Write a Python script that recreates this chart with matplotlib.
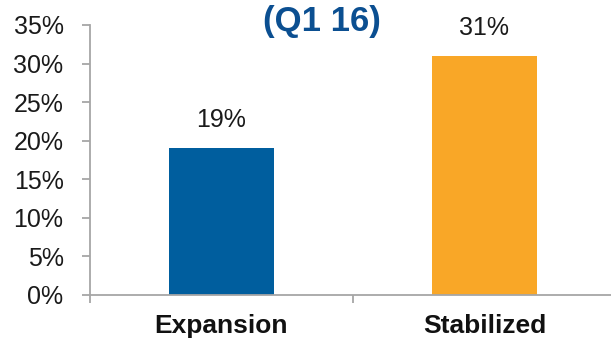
import matplotlib.pyplot as plt
import matplotlib.ticker as mticker

categories = ["Expansion", "Stabilized"]
values = [19, 31]
colors = ["#005E9E", "#F9A727"]
title = "(Q1 16)"

plt.rcParams['font.family'] = ['Liberation Sans', 'DejaVu Sans']

fig = plt.figure(figsize=(6.11, 3.39), dpi=100)
ax = fig.add_axes([90 / 611, 44 / 339, 526 / 611, 270 / 339])

x = list(range(len(categories)))
ax.bar(x, values, width=0.4, color=colors, zorder=2)

for xi, v in zip(x, values):
    ax.text(xi, v + 2.1, f"{v}%", ha='center', va='bottom', fontsize=18, color='#1a1a1a')

ax.set_xlim(-0.5, len(categories) - 0.5)
ax.set_ylim(0, 35)
ax.yaxis.set_major_locator(mticker.MultipleLocator(5))
ax.yaxis.set_major_formatter(mticker.FuncFormatter(lambda v, p: f"{v:.0f}%"))

# category boundary ticks along the bottom, names as separate text
ax.set_xticks([i - 0.5 for i in range(len(categories) + 1)])
ax.set_xticklabels([])
for xi, name in zip(x, categories):
    ax.text(xi, -0.115, name, transform=ax.get_xaxis_transform(), ha='center', va='center',
            fontsize=19, fontweight='bold', color='#111111')

for side in ('top', 'right'):
    ax.spines[side].set_visible(False)
for side in ('left', 'bottom'):
    ax.spines[side].set_color('#A6A6A6')
    ax.spines[side].set_linewidth(1.3)
ax.tick_params(axis='y', length=6, width=1.3, color='#A6A6A6', pad=13, labelsize=18, labelcolor='#1a1a1a')
ax.tick_params(axis='x', length=6, width=1.3, color='#A6A6A6')

fig.text(322 / 611, 1 - 21 / 339, title, ha='center', va='center', fontsize=25,
         fontweight='bold', color='#0B4F91')

fig.savefig("out.png", dpi=100)
